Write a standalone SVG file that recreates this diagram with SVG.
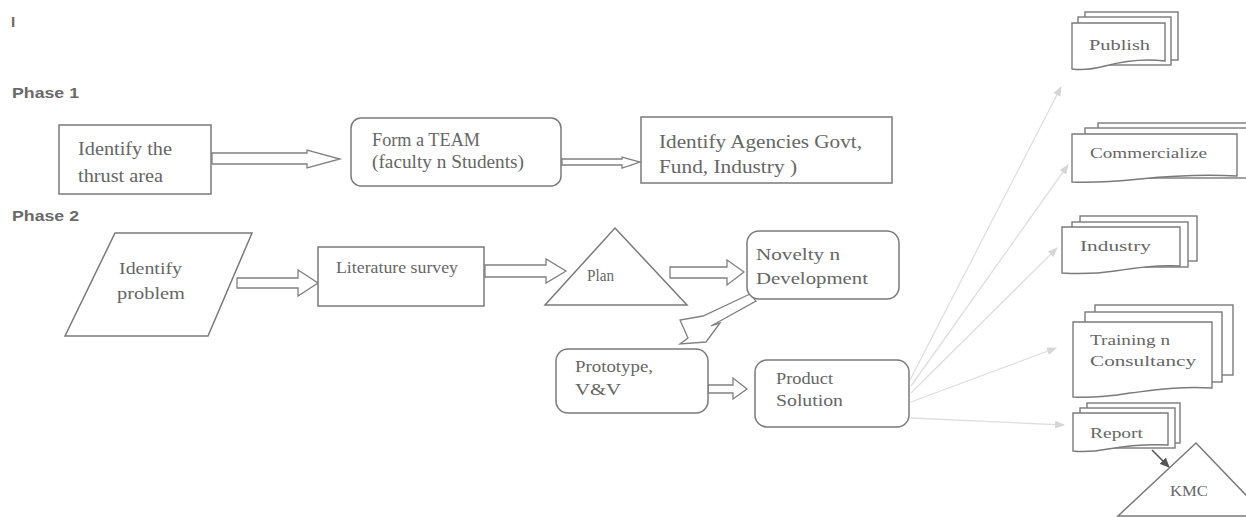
<svg xmlns="http://www.w3.org/2000/svg" width="1246" height="517" viewBox="0 0 1246 517">
<style>
.bg{fill:#ffffff}
.box{fill:#fff;stroke:#7a7a7a;stroke-width:1.5}
.barrow{fill:#fff;stroke:#808080;stroke-width:1.3}
.t{font-family:"Liberation Serif","Times New Roman",serif;font-size:19px;fill:#666}
.t2{font-family:"Liberation Serif","Times New Roman",serif;font-size:16px;fill:#666}
.ts{font-family:"Liberation Serif","Times New Roman",serif;font-size:15px;fill:#666}
.ph{font-family:"Liberation Sans",Arial,sans-serif;font-size:15px;font-weight:bold;fill:#6a6a6a}
.fan{stroke:#dedede;stroke-width:1.3;fill:none;marker-end:url(#lh)}
.doc{fill:#fff;stroke:#7a7a7a;stroke-width:1.4}
</style>
<defs>
<marker id="lh" markerWidth="10" markerHeight="8" refX="9" refY="4" orient="auto" markerUnits="userSpaceOnUse">
<path d="M0,0 L10,4 L0,8 Z" fill="#d6d6d6"/>
</marker>
<marker id="dh" markerWidth="10" markerHeight="9" refX="9" refY="4.5" orient="auto" markerUnits="userSpaceOnUse">
<path d="M0,0 L10,4.5 L0,9 Z" fill="#555"/>
</marker>
</defs>
<rect class="bg" x="0" y="0" width="1246" height="517"/>

<text class="ph" x="11" y="27" font-weight="normal">I</text>
<text class="ph" x="12" y="98" textLength="67" lengthAdjust="spacingAndGlyphs">Phase 1</text>
<text class="ph" x="12" y="221" textLength="67" lengthAdjust="spacingAndGlyphs">Phase 2</text>

<g id="connectors">
<polygon class="barrow" points="212,153 307,153 307,150 340,159 307,168 307,164 212,164"/>
<polygon class="barrow" points="562,159 622,159 622,157 640,162 622,168 622,165 562,165"/>
<polygon class="barrow" points="237,278 298,278 298,270 318,283 298,296 298,288 237,288"/>
<polygon class="barrow" points="485,265 546,265 546,259 566,271 546,283 546,277 485,277"/>
<polygon class="barrow" points="670,267 727,267 727,260 744,272 727,285 727,278 670,278"/>
<polygon class="barrow" points="708,385 733,385 733,378 747,389 733,399 733,393 708,393"/>
<polygon class="barrow" points="750,294 703,316 680,320 688,338 680,344 706,342 720,323 711,326 756,301"/>
<line class="fan" x1="910" y1="380" x2="1061" y2="87"/>
<line class="fan" x1="911" y1="386" x2="1068" y2="165"/>
<line class="fan" x1="911" y1="393" x2="1057" y2="248"/>
<line class="fan" x1="911" y1="402" x2="1056" y2="348"/>
<line class="fan" x1="911" y1="418" x2="1064" y2="425"/>
<line x1="1152" y1="450" x2="1169" y2="467" stroke="#555" stroke-width="1.6" marker-end="url(#dh)"/>
</g>

<g id="n-thrust">
<rect class="box" x="59" y="125" width="152" height="69"/>
<text class="t" x="78" y="155" textLength="94" lengthAdjust="spacingAndGlyphs">Identify the</text>
<text class="t" x="78" y="182" textLength="85" lengthAdjust="spacingAndGlyphs">thrust area</text>
</g>
<g id="n-team">
<rect class="box" x="351" y="118" width="210" height="68" rx="10"/>
<text class="t" x="372" y="146" textLength="108" lengthAdjust="spacingAndGlyphs">Form a TEAM</text>
<text class="t" x="372" y="168" textLength="152" lengthAdjust="spacingAndGlyphs">(faculty n Students)</text>
</g>
<g id="n-agencies">
<rect class="box" x="641" y="117" width="251" height="66"/>
<text class="t" x="659" y="148" textLength="203" lengthAdjust="spacingAndGlyphs">Identify Agencies Govt,</text>
<text class="t" x="659" y="173" textLength="138" lengthAdjust="spacingAndGlyphs">Fund, Industry )</text>
</g>

<g id="n-problem">
<polygon class="box" points="115,233 252,233 208,336 65,336"/>
<text class="t2" x="119" y="274" textLength="63" lengthAdjust="spacingAndGlyphs">Identify</text>
<text class="t2" x="117" y="299" textLength="68" lengthAdjust="spacingAndGlyphs">problem</text>
</g>
<g id="n-litsurvey">
<rect class="box" x="318" y="247" width="166" height="59"/>
<text class="t2" x="336" y="273" textLength="122" lengthAdjust="spacingAndGlyphs">Literature survey</text>
</g>
<g id="n-plan">
<polygon class="box" points="615,228 687,305 545,305"/>
<text class="t2" x="587" y="281" textLength="27" lengthAdjust="spacingAndGlyphs">Plan</text>
</g>
<g id="n-novelty">
<rect class="box" x="747" y="231" width="152" height="68" rx="12"/>
<text class="t2" x="756" y="260" textLength="84" lengthAdjust="spacingAndGlyphs">Novelty n</text>
<text class="t2" x="756" y="284" textLength="112" lengthAdjust="spacingAndGlyphs">Development</text>
</g>
<g id="n-prototype">
<rect class="box" x="556" y="349" width="152" height="64" rx="12"/>
<text class="t2" x="575" y="372" textLength="78" lengthAdjust="spacingAndGlyphs">Prototype,</text>
<text class="t2" x="575" y="395" textLength="46" lengthAdjust="spacingAndGlyphs">V&amp;V</text>
</g>
<g id="n-product">
<rect class="box" x="755" y="360" width="154" height="67" rx="12"/>
<text class="t2" x="776" y="384" textLength="57" lengthAdjust="spacingAndGlyphs">Product</text>
<text class="t2" x="776" y="406" textLength="67" lengthAdjust="spacingAndGlyphs">Solution</text>
</g>

<g id="n-publish">
<rect class="doc" x="1085" y="12" width="93" height="48"/>
<rect class="doc" x="1078" y="17" width="93" height="48"/>
<path class="doc" d="M1072,23 H1165 V61 C1140,58 1120,62 1105,66 C1090,70 1080,70 1072,69 Z"/>
<text class="ts" x="1089" y="50" textLength="61" lengthAdjust="spacingAndGlyphs">Publish</text>
</g>
<g id="n-commercialize">
<rect class="doc" x="1098" y="123" width="160" height="50"/>
<rect class="doc" x="1085" y="128" width="165" height="50"/>
<path class="doc" d="M1072,134 H1237 V176 C1200,174 1170,176 1140,179 C1110,182 1090,183 1072,182 Z"/>
<text class="ts" x="1090" y="158" textLength="117" lengthAdjust="spacingAndGlyphs">Commercialize</text>
</g>
<g id="n-industry">
<rect class="doc" x="1080" y="216" width="117" height="45"/>
<rect class="doc" x="1072" y="222" width="116" height="45"/>
<path class="doc" d="M1062,227 H1180 V266 C1155,265 1135,268 1115,271 C1095,274 1078,274 1062,273 Z"/>
<text class="ts" x="1080" y="251" textLength="71" lengthAdjust="spacingAndGlyphs">Industry</text>
</g>
<g id="n-training">
<rect class="doc" x="1095" y="305" width="138" height="70"/>
<rect class="doc" x="1085" y="312" width="137" height="70"/>
<path class="doc" d="M1073,322 H1212 V388 C1180,386 1155,390 1130,393 C1105,397 1088,398 1073,397 Z"/>
<text class="ts" x="1090" y="345" textLength="80" lengthAdjust="spacingAndGlyphs">Training n</text>
<text class="ts" x="1090" y="366" textLength="106" lengthAdjust="spacingAndGlyphs">Consultancy</text>
</g>
<g id="n-report">
<rect class="doc" x="1087" y="403" width="93" height="40"/>
<rect class="doc" x="1080" y="408" width="95" height="40"/>
<path class="doc" d="M1073,413 H1168 V445 C1145,444 1125,446 1108,449 C1092,452 1082,452 1073,451 Z"/>
<text class="ts" x="1090" y="438" textLength="53" lengthAdjust="spacingAndGlyphs">Report</text>
</g>
<g id="n-kmc">
<polygon class="box" points="1196,443 1266,516 1118,516"/>
<text class="ts" x="1170" y="496" font-size="12" textLength="38" lengthAdjust="spacingAndGlyphs">KMC</text>
</g>
</svg>
